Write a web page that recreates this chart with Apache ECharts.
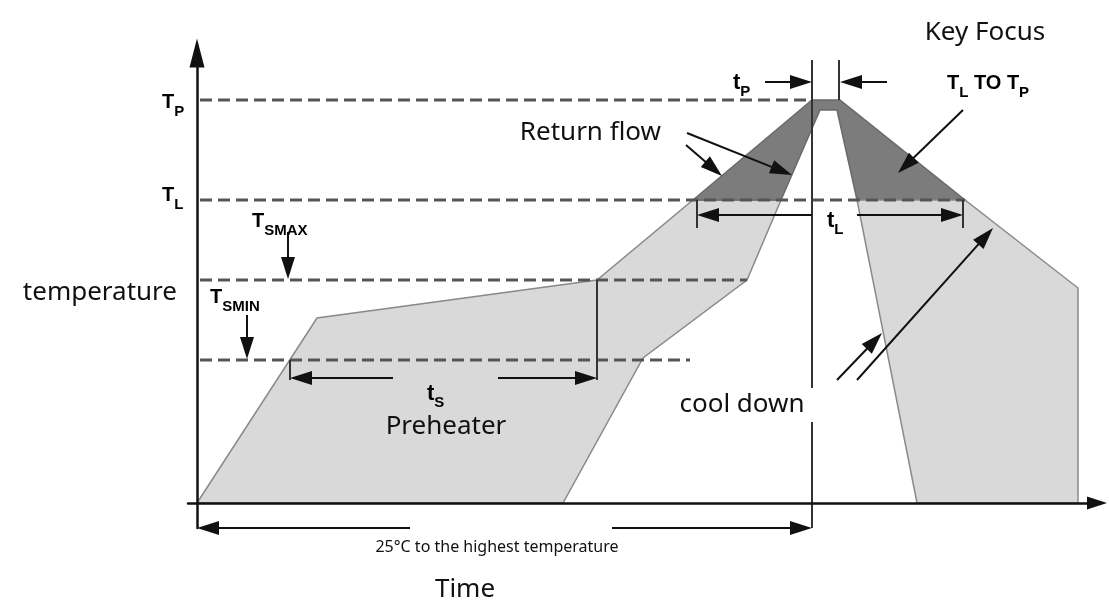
<!DOCTYPE html>
<html><head><meta charset="utf-8">
<script src="https://cdn.jsdelivr.net/npm/echarts@6/dist/echarts.min.js"></script>
<style>html,body{margin:0;padding:0;background:#fff}#c{width:1109px;height:605px}</style>
</head><body><div id="c"></div>
<script>
// ---- data (time on x, temperature on y, arbitrary units) ----
const preheatZone = [[0,0],[120,185],[400,223],[496,303],[584,303],[550,223],[446,145],[366,0]];
const reflowZone  = [[496,303],[615,403],[643,403],[768,303],[660,303],[640,393],[623,393],[584,303]];
const coolZone    = [[660,303],[768,303],[881,215],[881,0],[720,0]];

const levelNames  = ['Tp','TL','TSMAX','TSMIN'];
const levelValues = [403,303,223,143];
const levelStart  = [3,3,3,3];
const levelEnd    = [615,768,550,493];

// guide (solid) segments: [from, to]
const guideSegments = [
  [[615,-25],[615,443]],
  [[642,403],[642,443]],
  [[93,123],[93,143]],
  [[400,123],[400,223]],
  [[500,275],[500,303]],
  [[766,275],[766,303]]
];
// arrows: [tail, head]
const arrowSegments = [
  [[568,421],[615,421]], [[690,421],[643,421]],
  [[615,288],[500,288]], [[660,288],[766,288]],
  [[196,125],[93,125]],  [[301,125],[400,125]],
  [[213,-25],[0,-25]],   [[415,-25],[615,-25]],
  [[91,271],[91,224]],   [[50,188],[50,144]],
  [[489,358],[525,327]], [[490,370],[595,328]],
  [[766,393],[701,330]],
  [[640,123],[685,170]], [[660,123],[796,275]]
];
// text annotations
const bigLabels = [
  {text:'Key Focus',   at:[788,470], align:'center'},
  {text:'Return flow', at:[464,370], align:'right'},
  {text:'temperature', at:[-20,210], align:'right'},
  {text:'Preheater',   at:[249,76],  align:'center'},
  {text:'cool down',   at:[563,98],  align:'center', box:true},
  {text:'Time',        at:[268,-87], align:'center'}
];
const noteLabels = [{text:'25°C to the highest temperature', at:[300,-44]}];
const symLabels = [
  {text:'{m|T}{s|P}', at:[-35,401]},
  {text:'{m|T}{s|L}', at:[-35,308]},
  {text:'{m|T}{s|SMAX}', at:[55,282]},
  {text:'{m|T}{s|SMIN}', at:[13,206]},
  {text:'{t|t}{s|P}', at:[536,421]},
  {text:'{t|t}{s|L}', at:[630,283]},
  {text:'{t|t}{s|S}', at:[230,110]},
  {text:'{m|T}{s|L}{m| TO T}{s|P}', at:[750,420]}
];

const zones = [
  {pts:preheatZone, fill:'#d9d9d9', stroke:'#8a8a8a'},
  {pts:reflowZone,  fill:'#7c7c7c', stroke:'#6a6a6a'},
  {pts:coolZone,    fill:'#d9d9d9', stroke:'#8a8a8a'}
];

const chart = echarts.init(document.getElementById('c'), null, {renderer:'canvas'});
const bigFont = "'Noto Sans', 'Open Sans', sans-serif";
const symFont = "'Liberation Sans', Arial, sans-serif";
const rich = {
  m:{fontFamily:symFont,fontWeight:'bold',fontSize:20,lineHeight:20,verticalAlign:'top',color:'#2b2b2b'},
  t:{fontFamily:symFont,fontWeight:'bold',fontSize:22,lineHeight:20,verticalAlign:'top',color:'#2b2b2b'},
  s:{fontFamily:symFont,fontWeight:'bold',fontSize:15,lineHeight:15,padding:[12,0,0,0],verticalAlign:'top',color:'#2b2b2b'}
};

function arrowItem(a, api){
  const p0 = api.coord(a[0]), p1 = api.coord(a[1]);
  const dx=p1[0]-p0[0], dy=p1[1]-p0[1], L=Math.hypot(dx,dy), ux=dx/L, uy=dy/L;
  const hl=22, hw=7;
  const bx=p1[0]-ux*hl, by=p1[1]-uy*hl;
  return {type:'group', children:[
    {type:'line', shape:{x1:p0[0],y1:p0[1],x2:bx+ux*2,y2:by+uy*2}, style:{stroke:'#111',lineWidth:2}},
    {type:'polygon', shape:{points:[[p1[0],p1[1]],[bx-uy*hw,by+ux*hw],[bx+uy*hw,by-ux*hw]]}, style:{fill:'#111'}}
  ]};
}

const option = {
  animation:false,
  backgroundColor:'#fff',
  grid:{left:188,right:12,top:53,bottom:77,containLabel:false},
  xAxis:{type:'value',min:-9,max:900,z:10,
    axisLine:{onZero:true,symbol:['none','triangle'],symbolSize:[13,20],lineStyle:{color:'#111',width:2.5}},
    axisTick:{show:false},axisLabel:{show:false},splitLine:{show:false}},
  yAxis:{type:'value',min:-25,max:450,z:10,
    axisLine:{onZero:true,symbol:['none','triangle'],symbolSize:[15,29],lineStyle:{color:'#111',width:2.5}},
    axisTick:{show:false},axisLabel:{show:false},splitLine:{show:false}},
  series:[
    {type:'custom',z:1,silent:true,
     data:zones.map(z=>z.pts[0]),
     renderItem:(params,api)=>{
       const z = zones[params.dataIndex];
       return {type:'polygon',shape:{points:z.pts.map(p=>api.coord(p))},
               style:{fill:z.fill,stroke:z.stroke,lineWidth:1.5}};
     }},
    {type:'custom',z:3,silent:true,
     data:levelValues.map((v,i)=>[levelStart[i],v]),
     renderItem:(params,api)=>{
       const i=params.dataIndex;
       const a=api.coord([levelStart[i],levelValues[i]]), b=api.coord([levelEnd[i],levelValues[i]]);
       return {type:'line',shape:{x1:a[0],y1:a[1],x2:b[0],y2:b[1]},
               style:{stroke:'#555',lineWidth:3,lineDash:[12,6]}};
     }},
    {type:'custom',z:4,silent:true,
     data:guideSegments.map(s=>s[0]),
     renderItem:(params,api)=>{
       const s=guideSegments[params.dataIndex];
       const a=api.coord(s[0]), b=api.coord(s[1]);
       return {type:'line',shape:{x1:a[0],y1:a[1],x2:b[0],y2:b[1]},style:{stroke:'#333',lineWidth:2}};
     }},
    {type:'custom',z:5,silent:true,
     data:arrowSegments.map(s=>s[0]),
     renderItem:(params,api)=>arrowItem(arrowSegments[params.dataIndex],api)},
    {type:'custom',z:6,silent:true,
     data:bigLabels.map(l=>l.at),
     renderItem:(params,api)=>{
       const l=bigLabels[params.dataIndex]; const p=api.coord(l.at);
       const st={text:l.text,fontFamily:bigFont,fontSize:26,fill:'#111',align:l.align,verticalAlign:'middle'};
       if(l.box){st.backgroundColor='#fff';st.padding=[4,43,4,7];}
       return {type:'text',x:p[0],y:p[1],style:st};
     }},
    {type:'custom',z:6,silent:true,
     data:noteLabels.map(l=>l.at),
     renderItem:(params,api)=>{
       const l=noteLabels[params.dataIndex]; const p=api.coord(l.at);
       return {type:'text',x:p[0],y:p[1],style:{text:l.text,fontFamily:bigFont,fontSize:16,fill:'#111',align:'center',verticalAlign:'middle'}};
     }},
    {type:'custom',z:6,silent:true,
     data:symLabels.map(l=>l.at),
     renderItem:(params,api)=>{
       const l=symLabels[params.dataIndex]; const p=api.coord(l.at);
       return {type:'text',x:p[0],y:p[1],style:{text:l.text,rich:rich,align:'left',verticalAlign:'middle'}};
     }}
  ]
};
chart.setOption(option);
</script>
</body></html>
